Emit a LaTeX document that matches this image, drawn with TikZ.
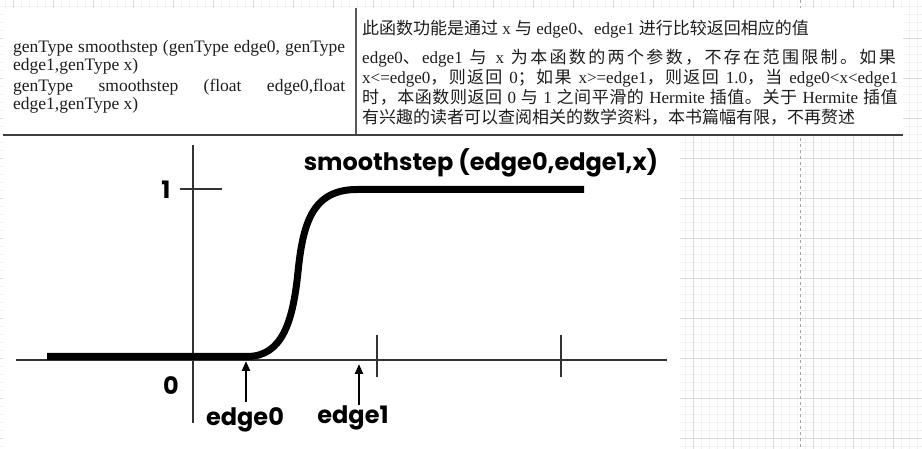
\documentclass[tikz,border=0pt]{standalone}
\usepackage{fontspec}
\setmainfont{Liberation Serif}
\newfontfamily\cjk{Noto Sans CJK SC}
\newfontfamily\plotfont{Poppins}
\usetikzlibrary{arrows.meta}
\def\zhloop#1{\ifx\relax#1\else#1\hskip0pt plus 2pt\relax\expandafter\zhloop\fi}
\newcommand\zh[1]{{\cjk\zhloop#1\relax}}
\definecolor{txt}{HTML}{1E1E1E}
\definecolor{gridmin}{HTML}{F1F1F1}
\definecolor{gridmaj}{HTML}{DCDCDC}
\tikzset{
  lefttxt/.style={anchor=base west,inner sep=0pt,font=\fontsize{17.5}{17.5}\selectfont,text=txt},
  righttxt/.style={anchor=base west,inner sep=0pt,font=\fontsize{17}{17}\selectfont,text=txt},
  plotlbl/.style={inner sep=0pt,font=\plotfont\bfseries\fontsize{24}{24}\selectfont},
  axis/.style={line width=1.3pt,draw=black!80},
  curve/.style={line width=7pt,line join=round},
  pointer/.style={line width=2.3pt,-{Triangle[length=10pt,width=8pt]}},
}
\begin{document}
\begin{tikzpicture}[x=1pt,y=-1pt]
\useasboundingbox (0,0) rectangle (922,449);
\fill[white] (0,0) rectangle (922,449);
% background grid
\foreach \i in {0,...,115} {\draw[gridmin,line width=0.6pt] ({5+8*\i},0) -- ({5+8*\i},449);}
\foreach \i in {0,...,56} {\draw[gridmin,line width=0.6pt] (0,{6+8*\i}) -- (922,{6+8*\i});}
\foreach \i in {0,...,22} {\draw[gridmaj,line width=0.8pt] ({13+40*\i},0) -- ({13+40*\i},449);}
\foreach \i in {0,...,10} {\draw[gridmaj,line width=0.8pt] (0,{38+40*\i}) -- (922,{38+40*\i});}
\draw[gray!70,dashed,line width=0.8pt] (800,0) -- (800,449);
% white panels
\fill[white] (3,8) rectangle (903,135);
\fill[white] (3,136) rectangle (680,449);
% table
\draw[black!75,line width=2pt] (3,135) -- (903,135);
\draw[black!65,line width=1.5pt] (356,8) -- (356,134);
\node[lefttxt] (l1) at (13,53) {\makebox[332pt][s]{genType smoothstep (genType edge0, genType}};
\node[lefttxt] (l2) at (13,71) {edge1,genType x)};
\node[lefttxt] (l3) at (13,92) {\makebox[332pt][s]{genType smoothstep (float edge0,float}};
\node[lefttxt] (l4) at (13,110) {edge1,genType x)};
\node[righttxt] (r1) at (362,35) {\zh{此函数功能是通过} x \zh{与} edge0\zh{、}edge1 \zh{进行比较返回相应的值}};
\node[righttxt] (r2) at (362,64) {\makebox[536pt][s]{edge0\zh{、}edge1 \zh{与} x \zh{为本函数的两个参数，不存在范围限制。如果}}};
\node[righttxt] (r3) at (362,84) {\makebox[536pt][s]{x<=edge0\zh{，则返回} 0\zh{；如果} x>=edge1\zh{，则返回} 1.0\zh{，当} edge0<x<edge1}};
\node[righttxt] (r4) at (362,104) {\makebox[536pt][s]{\zh{时，本函数则返回} 0 \zh{与} 1 \zh{之间平滑的} Hermite \zh{插值。关于} Hermite \zh{插值}}};
\node[righttxt] (r5) at (362,124) {\zh{有兴趣的读者可以查阅相关的数学资料，本书篇幅有限，不再赘述}};
% plot axes
\coordinate (yb) at (193,145);
\coordinate (ye) at (193,423);
\coordinate (xb) at (16,360);
\coordinate (xe) at (667,360);
\draw[axis] (yb) -- (ye);
\draw[axis] (xb) -- (xe);
\coordinate (t1a) at (180,189); \coordinate (t1b) at (222,189);
\draw[axis] (t1a) -- (t1b);
\coordinate (tAa) at (377,335); \coordinate (tAb) at (377,377);
\draw[axis] (tAa) -- (tAb);
\coordinate (tBa) at (561,335); \coordinate (tBb) at (561,377);
\draw[axis] (tBa) -- (tBb);
% curve
\coordinate (c0) at (47,356.5);
\coordinate (c1) at (247,356.5);
\coordinate (c2) at (357,189.5);
\coordinate (c3) at (584,189.5);
\draw[curve] (c0) -- (c1) .. controls (283,356.5) and (293,320) .. (298,272)
   .. controls (303,222) and (313,189.5) .. (c2) -- (c3);
% labels
\node[plotlbl] (one) at (166,190) {1};
\node[plotlbl] (zero) at (171,386) {0};
\node[plotlbl] (title) at (481,163) {smoothstep (edge0,edge1,x)};
\node[plotlbl] (e0) at (245,420) {edge0};
\node[plotlbl] (e1) at (353,418) {edge1};
\coordinate (a0) at (246,361);
\coordinate (a1) at (359,364);
\draw[pointer] (246,402) -- (a0);
\draw[pointer] (359,405) -- (a1);
\end{tikzpicture}
\end{document}
